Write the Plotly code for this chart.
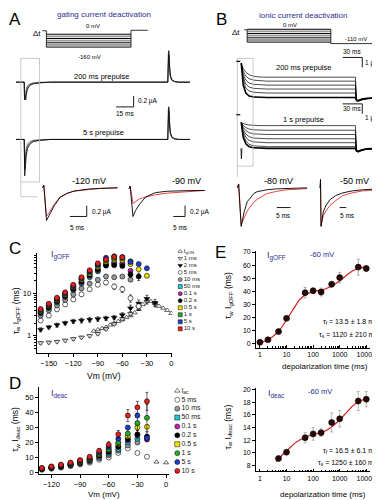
import plotly.graph_objects as go

W, H = 380, 500
FONT = "Liberation Sans, Arial, sans-serif"
TXT_BLUE = "#2d2d8c"
RED, BLUE, GREEN = "#e3201c", "#1f3fd0", "#22b02a"
YELLOW, BLACK, MAGENTA = "#f0e400", "#000000", "#c020b0"
CYAN, GRAY = "#22c8d8", "#9a9a9a"

# ================= Panel A: gating current traces (ms, µA) =================
a_time = [0, 7.2, 7.6, 8.1, 8.9, 10, 12, 15, 21, 30, 130.8, 131.3, 131.7, 132.3, 133, 134.2, 136.5, 140, 150]
a_200ms_1 = [0, 0, -0.56, -0.40, -0.24, -0.13, -0.06, -0.03, -0.01, 0, 0, 0.52, 0.58, 0.32, 0.13, 0.05, 0.015, 0, 0]
a_200ms_2 = [0, 0, -0.47, -0.32, -0.18, -0.09, -0.045, -0.02, -0.008, 0, 0, 0.46, 0.52, 0.28, 0.11, 0.04, 0.01, 0, 0]
a_200ms_3 = [0, 0, -0.38, -0.24, -0.13, -0.06, -0.03, -0.012, 0, 0, 0, 0.40, 0.47, 0.24, 0.09, 0.03, 0.01, 0, 0]
a_5s_1 = [0, 0, -0.67, -0.50, -0.30, -0.17, -0.09, -0.04, -0.015, 0, 0, 0.55, 0.60, 0.33, 0.13, 0.05, 0.015, 0, 0]
a_5s_2 = [0, 0, -0.55, -0.38, -0.22, -0.12, -0.06, -0.025, -0.01, 0, 0, 0.50, 0.55, 0.30, 0.12, 0.04, 0.01, 0, 0]
a_5s_3 = [0, 0, -0.42, -0.27, -0.15, -0.08, -0.04, -0.015, 0, 0, 0, 0.44, 0.50, 0.26, 0.10, 0.03, 0.01, 0, 0]

a120_t = [0.6, 1.0, 1.8, 2.6, 4.1, 5.9, 8, 10, 14.7, 18, 23]
a120_black = [0, 0.05, -0.60, -0.50, -0.33, -0.17, -0.10, -0.06, -0.02, -0.01, 0]
a120_red = [0, 0.04, -0.52, -0.46, -0.30, -0.17, -0.10, -0.06, -0.03, -0.01, 0]
a90_t = [0.8, 1.3, 2.5, 3.6, 5.0, 7.9, 12, 17, 24.6, 33]
a90_black = [0, 0.05, -0.51, -0.40, -0.30, -0.15, -0.07, -0.045, -0.035, -0.03]
a90_red = [0, 0.05, -0.27, -0.24, -0.19, -0.15, -0.11, -0.08, -0.05, -0.03]

# ================= Panel B: ionic current traces (ms, µA) =================
b_time = [6, 9, 13, 18, 25, 33, 45, 180, 181.5, 184.5, 190, 198, 210]
b_200ms = [
    [3.5, 3.0, 2.6, 2.35, 2.2, 2.12, 2.1, 2.1, -0.30, -0.35, -0.20, -0.08, -0.02],
    [3.5, 2.7, 2.2, 1.95, 1.8, 1.73, 1.7, 1.7, -0.30, -0.33, -0.18, -0.07, -0.02],
    [3.5, 2.4, 1.8, 1.5, 1.38, 1.32, 1.3, 1.3, -0.28, -0.30, -0.16, -0.06, -0.02],
    [3.5, 2.1, 1.4, 1.1, 0.97, 0.92, 0.9, 0.9, -0.25, -0.28, -0.15, -0.05, -0.02],
    [3.5, 1.8, 1.0, 0.7, 0.57, 0.52, 0.5, 0.5, -0.22, -0.25, -0.13, -0.05, -0.01],
    [3.5, 1.3, 0.5, 0.2, 0.1, 0.06, 0.05, 0.05, -0.20, -0.25, -0.12, -0.04, -0.01],
]
b_1s = [
    [2.6, 2.5, 2.42, 2.36, 2.32, 2.3, 2.3, 2.3, -0.30, -0.38, -0.20, -0.08, -0.02],
    [2.6, 2.3, 2.1, 1.95, 1.87, 1.84, 1.83, 1.83, -0.30, -0.36, -0.20, -0.07, -0.02],
    [2.6, 2.1, 1.8, 1.58, 1.46, 1.42, 1.4, 1.4, -0.28, -0.34, -0.18, -0.07, -0.02],
    [2.6, 1.9, 1.45, 1.18, 1.04, 0.99, 0.97, 0.97, -0.27, -0.32, -0.17, -0.06, -0.02],
    [2.6, 1.7, 1.1, 0.8, 0.65, 0.59, 0.57, 0.57, -0.26, -0.30, -0.16, -0.06, -0.01],
    [2.6, 1.4, 0.75, 0.4, 0.25, 0.19, 0.17, 0.17, -0.25, -0.30, -0.15, -0.05, -0.01],
    [2.6, 1.1, 0.45, 0.17, 0.06, 0.02, 0, 0, -0.25, -0.30, -0.15, -0.05, -0.01],
]
b_cap_t = [5.5, 6.2, 7.0]
b_cap_v = [0, -1.05, 0]

b80_t = [0.7, 1.2, 2.1, 3.2, 4.3, 6.8, 7.9, 11.4, 15, 18.6, 24.6, 26]
b80_black = [0, 0.1, -1.0, -0.62, -0.36, -0.14, -0.10, -0.05, -0.026, -0.015, 0, 0]
b80_red = [0, 0.1, -0.95, -0.75, -0.60, -0.36, -0.30, -0.15, -0.09, -0.05, -0.026, -0.02]
b50_t = [1.5, 1.9, 2.3, 4, 6, 9, 13.5, 18.8, 26, 33.8, 46.5]
b50_black = [0, 0.22, -1.0, -0.62, -0.46, -0.31, -0.20, -0.13, -0.08, -0.05, -0.026]
b50_red = [0, 0.1, -0.98, -0.72, -0.60, -0.46, -0.33, -0.20, -0.13, -0.08, -0.05]

# ================= Panel C: tau IgOFF vs Vm =================
vm_c = [-160, -150, -140, -130, -120, -110, -100, -90, -80, -70, -60, -50, -40, -30]
vm_c_fast = [-160, -150, -140, -130, -120, -110, -100, -90, -80, -70, -60, -50, -40, -30, -20]
vm_gon = [-95, -90, -85, -80, -75, -70, -65, -60, -55, -50, -45, -40, -35, -30, -25, -20, -15, -10, -5, 0]
c_igon = [1.3, 1.4, 1.5, 1.6, 1.8, 2.0, 2.2, 2.4, 2.7, 3.0, 3.5, 4.2, 5.5, 6.8, 6.5, 5.8, 5.0, 4.5, 4.0, 3.4]
c_1ms = [0.68, 0.70, 0.73, 0.78, 0.85, 0.92, 1.0, 1.12, 1.45, 1.9, 2.5, 3.3, 4.6, 6.4, 5.6]
c_1ms_err = [0.05, 0.05, 0.05, 0.05, 0.06, 0.06, 0.07, 0.08, 0.1, 0.15, 0.2, 0.3, 0.5, 0.8, 0.6]
c_2ms = [1.4, 1.6, 1.8, 2.0, 2.2, 2.3, 2.4, 2.5, 2.6, 2.7, 3.1, 4.5, 5.8, 7.5, 6.0]
c_2ms_err = [0.15, 0.15, 0.2, 0.2, 0.25, 0.3, 0.3, 0.3, 0.3, 0.3, 0.4, 0.8, 1.2, 1.5, 1.2]
c_5ms = [2.3, 3.0, 4.2, 5.5, 7.2, 9.5, 12.5, 16, 18, 14.5, 12.5, 7.7, 5.0, None]
c_5ms_err = [0.2, 0.3, 0.4, 0.5, 0.7, 0.9, 1.2, 1.5, 2.0, 2.0, 2.0, 1.5, 1.0, 0]
c_10ms = [3.0, 4.0, 5.2, 7.0, 9.5, 13, 17, 21, 25, 24, 25, 21, None, None]
c_50ms = [3.4, 4.5, 6.1, 8.2, 12, 17, 24, 33, 47, 50, 48, None, None, None]
c_01s = [3.5, 4.7, 6.4, 8.6, 12.5, 18, 26, 35, 49, 53, 51, 34, None, None]
c_02s = [3.6, 4.8, 6.6, 8.8, 13, 19, 27, 37, 45, 46, 44, 28, 25, None]
c_02s_err = [0.2, 0.3, 0.4, 0.5, 0.8, 1, 1.5, 2, 3, 3, 3, 4, 5, 0]
c_05s = [3.8, 5.1, 7.0, 9.3, 14, 21, 29, 42, 56, 62, 60, 49, 37, 26]
c_1s = [3.9, 5.3, 7.3, 9.7, 14.5, 22, 31, 45, 60, 67, 66, 57, None, None]
c_5s = [4.1, 5.5, 7.6, 10.2, 15, 23, 33, 48, 69, 75, 72, 55, 49, 39]
c_10s = [4.3, 5.7, 7.9, 10.6, 16, 24, 35, 51, 63, 73, 71, None, None, None]
c_legend_labels = ["I<sub>gON</sub>", "1 ms", "2 ms", "5 ms", "10 ms", "50 ms", "0.1 s", "0.2 s",
                   "0.5 s", "1 s", "5 s", "10 s"]

# ================= Panel D: tau Ideac vs Vm =================
vm_d = [-130, -120, -110, -100, -90, -80, -70, -60, -50, -40, -30, -20]
vm_iac = [-10, 0]
d_iac = [7.0, 6.5]
d_5ms = [1.8, 2.5, 3.2, 4.2, 5.3, 6.5, 8.5, 10, 13, 16, 13, 10.5]
d_10ms = [2.0, 2.8, 3.5, 4.6, 5.8, 7.2, 9.5, 11.5, 14.5, 18, 20, None]
d_50ms = [2.2, 3.0, 3.8, 5.0, 6.2, 7.8, 10.5, 12.5, 15.5, 20, 22.5, None]
d_01s = [2.3, 3.1, 4.0, 5.2, 6.5, 8.2, 11, 13.5, 17, 21.5, 25, 22]
d_02s = [2.4, 3.2, 4.2, 5.4, 6.8, 8.5, 11.5, 14, 17.5, 22.5, 25.5, 24]
d_02s_err = [0.2, 0.3, 0.3, 0.4, 0.5, 0.6, 0.8, 1, 1.5, 2, 3, 3]
d_05s = [2.5, 3.4, 4.4, 5.6, 7.0, 8.8, 12, 15, 19, 24, 30, 30.5]
d_1s = [2.6, 3.6, 4.6, 5.8, 7.4, 9.2, 12.5, 15.5, 20, 26, 33, 36.5]
d_1s_err = [0.2, 0.3, 0.4, 0.5, 0.6, 0.8, 1, 1.5, 2, 3, 5, 9]
d_5s = [2.8, 3.8, 4.9, 6.2, 7.8, 9.8, 13.5, 17, 22.5, 30, 38, 23]
d_10s = [3.0, 4.0, 5.2, 6.6, 8.3, 10.5, 14.5, 18.5, 25.5, 38, 43.5, 47.5]
d_10s_err = [0.3, 0.4, 0.5, 0.6, 0.8, 1, 1.5, 2, 2.5, 4, 4, 6]
d_legend_labels = ["I<sub>ac</sub>", "5 ms", "10 ms", "50 ms", "0.1 s", "0.2 s", "0.5 s", "1 s", "5 s", "10 s"]

# ================= Panel E: tau vs depolarization time =================
e1_t = [1, 2, 5, 10, 50, 100, 200, 500, 1000, 5000, 10000]
e1_v = [1.3, 3.2, 9.4, 19.5, 39, 40.5, 39.5, 45.5, 50.5, 58.5, 57.5]
e1_err = [0.5, 0.5, 1, 1.5, 4, 2, 3, 2, 4, 6, 2]
e1_fit_t = [1, 1.5, 2, 3, 5, 7, 10, 15, 20, 30, 50, 70, 100, 200, 300, 500, 1000, 2000, 3000, 5000, 7000, 10000]
e1_fit_v = [0.5, 2, 3.3, 5.5, 9.5, 13.5, 18.5, 24.5, 28.5, 33.5, 37.5, 39, 40, 41, 42, 44, 48, 53, 55.5, 57.5, 58.3, 58.7]
e2_t = [5, 10, 50, 100, 200, 500, 1000, 5000, 10000]
e2_v = [9.1, 10.1, 12.4, 13.0, 13.2, 14.8, 15.4, 18.2, 18.5]
e2_err = [0.25, 0.25, 0.8, 1.0, 0.6, 1.5, 1.3, 1.5, 1.2]
e2_fit_t = [4, 5, 7, 10, 15, 20, 30, 50, 70, 100, 200, 300, 500, 1000, 2000, 3000, 5000, 7000, 10000]
e2_fit_v = [8.6, 9.1, 9.7, 10.3, 11.0, 11.5, 12.0, 12.5, 12.7, 12.9, 13.2, 13.5, 14.1, 15.2, 16.6, 17.4, 18.1, 18.4, 18.6]

# ---------------------------------------------------------------------------
fig = go.Figure()


def dx(a, b):
    return [a / W, b / W]


def dy(top, bottom):
    return [1 - bottom / H, 1 - top / H]


def line(t, v, xa, ya, color="black", width=0.8):
    fig.add_trace(go.Scatter(x=t, y=v, xaxis=xa, yaxis=ya, mode="lines",
                             line=dict(color=color, width=width), hoverinfo="skip"))


def pts(x, y, xa, ya, sym, fill, size=5, err=None, ecolor="black", lw=0.6):
    fig.add_trace(go.Scatter(
        x=x, y=y, xaxis=xa, yaxis=ya, mode="markers", hoverinfo="skip",
        marker=dict(symbol=sym, color=fill, size=size, line=dict(color="black", width=lw)),
        error_y=dict(type="data", array=err, color=ecolor, thickness=0.6, width=1.5, visible=err is not None)))


# ---- Panel A traces
for v, c in [(a_200ms_3, "#777"), (a_200ms_2, "#333"), (a_200ms_1, "black")]:
    line(a_time, v, "x7", "y7", c)
for v, c in [(a_5s_3, "#777"), (a_5s_2, "#333"), (a_5s_1, "black")]:
    line(a_time, v, "x7", "y8", c)
line(a120_t, a120_red, "x9", "y9", "#e03030", 0.9)
line(a120_t, a120_black, "x9", "y9", "black", 0.9)
line(a90_t, a90_red, "x10", "y10", "#e03030", 0.9)
line(a90_t, a90_black, "x10", "y10", "black", 0.9)

# ---- Panel B traces
for i, v in enumerate(b_200ms):
    line(b_time, v, "x11", "y11", "black", 1.6 if i == len(b_200ms) - 1 else 0.7)
for i, v in enumerate(b_1s):
    line(b_time, v, "x11", "y12", "black", 1.6 if i == len(b_1s) - 1 else 0.7)
line(b_cap_t, b_cap_v, "x11", "y12", "black", 0.8)
line(b80_t, b80_red, "x13", "y13", "#e03030", 0.9)
line(b80_t, b80_black, "x13", "y13", "black", 0.9)
line(b50_t, b50_red, "x14", "y14", "#e03030", 0.9)
line(b50_t, b50_black, "x14", "y14", "black", 0.9)

# ---- Panel C points
pts(vm_gon, c_igon, "x", "y", "triangle-up", "white", 4.5, lw=0.6)
pts(vm_c_fast, c_1ms, "x", "y", "triangle-down", "#dddddd", 5, c_1ms_err)
pts(vm_c_fast, c_2ms, "x", "y", "triangle-down", BLACK, 5, c_2ms_err)
pts(vm_c, c_5ms, "x", "y", "circle", "white", 5, c_5ms_err)
c_series = [(c_10ms, GRAY), (c_50ms, CYAN), (c_01s, MAGENTA), (c_02s, BLACK), (c_05s, YELLOW),
            (c_1s, GREEN), (c_5s, BLUE), (c_10s, RED)]
for vals, col in c_series:
    pts(vm_c, vals, "x", "y", "circle", col, 5, c_02s_err if vals is c_02s else None)

# C legend
c_leg_sym = ["triangle-up", "triangle-down", "triangle-down", "circle", "circle", "square", "circle",
             "circle", "square", "square", "square", "square"]
c_leg_col = ["white", "#dddddd", BLACK, "white", GRAY, CYAN, MAGENTA, BLACK, YELLOW, GREEN, BLUE, RED]
fig.add_trace(go.Scatter(
    x=[0] * len(c_legend_labels), y=list(range(len(c_legend_labels))), xaxis="x5", yaxis="y5",
    mode="markers+text", text=c_legend_labels, textposition="middle right",
    textfont=dict(size=6, family=FONT, color="#222"), hoverinfo="skip",
    marker=dict(symbol=c_leg_sym, color=c_leg_col, size=4, line=dict(color="black", width=0.5))))

# ---- Panel D points
pts(vm_iac, d_iac, "x2", "y2", "triangle-up", "white", 4.5)
pts(vm_d, d_5ms, "x2", "y2", "circle", "white", 5)
d_series = [(d_10ms, GRAY, None), (d_50ms, CYAN, None), (d_01s, MAGENTA, None), (d_02s, BLACK, d_02s_err),
            (d_05s, YELLOW, None), (d_1s, GREEN, d_1s_err), (d_5s, BLUE, None), (d_10s, RED, d_10s_err)]
for vals, col, err in d_series:
    pts(vm_d, vals, "x2", "y2", "circle", col, 5, err)

d_leg_sym = ["triangle-up", "circle", "circle", "square", "circle", "circle", "square", "circle", "circle", "circle"]
d_leg_col = ["white", "white", GRAY, CYAN, MAGENTA, BLACK, YELLOW, GREEN, BLUE, RED]
fig.add_trace(go.Scatter(
    x=[0] * len(d_legend_labels), y=list(range(len(d_legend_labels))), xaxis="x6", yaxis="y6",
    mode="markers+text", text=d_legend_labels, textposition="middle right",
    textfont=dict(size=7, family=FONT, color="#222"), hoverinfo="skip",
    marker=dict(symbol=d_leg_sym, color=d_leg_col, size=5, line=dict(color="black", width=0.5))))

# ---- Panel E
line(e1_fit_t, e1_fit_v, "x3", "y3", "#d41e1e", 1.2)
pts(e1_t, e1_v, "x3", "y3", "circle", "#2a0808", 6, e1_err, ecolor="#777")
line(e2_fit_t, e2_fit_v, "x4", "y4", "#d41e1e", 1.2)
pts(e2_t, e2_v, "x4", "y4", "circle", "#2a0808", 6, e2_err, ecolor="#888")

# ---------------------------------------------------------------------------
TICKF = dict(size=7.5, family=FONT, color="black")


def vis_axis(domain, rng, anchor, **kw):
    d = dict(domain=domain, range=rng, anchor=anchor, showline=True, linecolor="black", linewidth=0.8,
             ticks="outside", ticklen=3, tickwidth=0.8, tickcolor="black", showgrid=False, zeroline=False,
             tickfont=TICKF, fixedrange=True)
    d.update(kw)
    return d


def hid_axis(domain, rng, anchor):
    return dict(domain=domain, range=rng, anchor=anchor, visible=False, fixedrange=True)


minor_c = [0.5, 0.6, 0.7, 0.8, 0.9, 2, 3, 4, 5, 6, 7, 8, 9, 20, 30, 40, 50, 60, 70, 80]
minor_e = [m * d for d in (1, 10, 100, 1000) for m in range(2, 10)]
e_ticks = dict(tickvals=[1, 10, 100, 1000, 10000], ticktext=["1", "10", "100", "1000", "10000"],
               ticks="inside", tickfont=dict(size=7, family=FONT, color="black"),
               minor=dict(tickvals=minor_e, ticks="inside", ticklen=2, tickcolor="black", tickwidth=0.6))

layout_axes = dict(
    xaxis=vis_axis(dx(29, 167), [-165, 1.2], "y", tickvals=[-150, -120, -90, -60, -30, 0]),
    yaxis=vis_axis(dy(245, 346), [-0.4, 1.95], "x", type="log", tickvals=[1, 10], ticktext=["1", "10"],
                   minor=dict(tickvals=minor_c, ticks="outside", ticklen=2, tickcolor="black", tickwidth=0.6)),
    xaxis2=vis_axis(dx(31.5, 163.5), [-133, 3], "y2", tickvals=[-120, -90, -60, -30, 0]),
    yaxis2=vis_axis(dy(381, 469), [-1.3, 56.8], "x2", tickvals=[0, 10, 20, 30, 40, 50]),
    xaxis3=vis_axis(dx(252, 368), [-0.148, 4.148], "y3", type="log", **e_ticks),
    yaxis3=vis_axis(dy(243, 341), [-3, 70.7], "x3", tickvals=[0, 10, 20, 30, 40, 50, 60, 70],
                    tickfont=dict(size=7, family=FONT, color="black")),
    xaxis4=vis_axis(dx(252, 368), [-0.148, 4.148], "y4", type="log", **e_ticks),
    yaxis4=vis_axis(dy(382, 466), [7.06, 20.2], "x4", tickvals=[8, 10, 12, 14, 16, 18, 20],
                    tickfont=dict(size=7, family=FONT, color="black")),
    xaxis5=hid_axis(dx(170, 215), [-1, 8], "y5"),
    yaxis5=hid_axis(dy(239.7, 325.3), [11.5, -0.5], "x5"),
    xaxis6=hid_axis(dx(167, 215), [-1, 8.6], "y6"),
    yaxis6=hid_axis(dy(380, 470), [9.5, -0.5], "x6"),
    xaxis7=hid_axis(dx(8, 185), [0, 150], "y7"),
    yaxis7=hid_axis(dy(35, 110), [-0.69, 0.673], "x7"),
    yaxis8=hid_axis(dy(90, 175), [-0.818, 0.727], "x7"),
    xaxis9=hid_axis(dx(33, 112), [0, 23.2], "y9"),
    yaxis9=hid_axis(dy(172, 216), [-0.673, 0.127], "x9"),
    xaxis10=hid_axis(dx(121, 200), [0, 33], "y10"),
    yaxis10=hid_axis(dy(172, 216), [-0.655, 0.145], "x10"),
    xaxis11=hid_axis(dx(233, 378), [0, 217.5], "y11"),
    yaxis11=hid_axis(dy(45, 95), [-0.7, 4.3], "x11"),
    yaxis12=hid_axis(dy(92, 150), [-1.1, 4.7], "x11"),
    xaxis13=hid_axis(dx(231, 305), [0, 26.4], "y13"),
    yaxis13=hid_axis(dy(170, 222), [-1.1, 0.23], "x13"),
    xaxis14=hid_axis(dx(315, 380), [0, 48.75], "y14"),
    yaxis14=hid_axis(dy(170, 222), [-1.1, 0.23], "x14"),
)

# ---- shapes
shapes = []


def pline(pts_list, color="black", width=1):
    for (x0, y0), (x1, y1) in zip(pts_list[:-1], pts_list[1:]):
        shapes.append(dict(type="line", xref="paper", yref="paper", x0=x0 / W, y0=1 - y0 / H,
                           x1=x1 / W, y1=1 - y1 / H, line=dict(color=color, width=width)))


def prect(x0, y0, x1, y1, color="#bbbbbb", width=0.8):
    shapes.append(dict(type="rect", xref="paper", yref="paper", x0=x0 / W, y0=1 - y1 / H,
                       x1=x1 / W, y1=1 - y0 / H, line=dict(color=color, width=width)))


def stripes(x0, x1, ytop, ybot):
    n = 7
    for i in range(n):
        y = ytop + (ybot - ytop) * i / (n - 1)
        pline([(x0, y), (x1, y)], "black" if i % 2 == 0 else "#999999", 1.0 if i % 2 == 0 else 1.8)


# A protocol
stripes(39, 125, 23.5, 36.5)
pline([(35, 20), (39, 20), (39, 36.5)], "black", 0.8)
pline([(125, 36.5), (125, 19.5), (142, 19.5)], "black", 0.8)
# B protocol
stripes(243, 328, 18.5, 31.5)
pline([(240, 19), (243, 19), (243, 31.5)], "black", 0.8)
pline([(328, 18.5), (328, 33), (375, 33)], "black", 0.8)
# gray zoom boxes
prect(13, 48, 32, 173)
pline([(13, 173), (13, 188), (30, 188)], "#bbbbbb", 0.8)
prect(233, 48, 249, 157)
pline([(233, 157), (233, 168)], "#bbbbbb", 0.8)
pline([(232, 51), (236, 51)], "black", 1.2)
pline([(232, 105), (236, 105)], "black", 1.2)


def sbar(xa, ya, pts_list, width=0.9):
    for (x0, y0), (x1, y1) in zip(pts_list[:-1], pts_list[1:]):
        shapes.append(dict(type="line", xref=xa, yref=ya, x0=x0, y0=y0, x1=x1, y1=y1,
                           line=dict(color="black", width=width)))


# scale bars in data units (ms, µA)
sbar("x7", "y7", [(86.4, -0.455), (101.4, -0.455), (101.4, -0.255)])
sbar("x9", "y9", [(8.8, -0.527), (13.8, -0.527), (13.8, -0.327)])
sbar("x10", "y10", [(19.6, -0.509), (24.6, -0.509), (24.6, -0.309)])
sbar("x11", "y11", [(160.5, 4.1), (190.5, 4.1), (190.5, 3.1)])
sbar("x11", "y12", [(160.5, 4.5), (190.5, 4.5), (190.5, 3.5)])
sbar("x13", "y13", [(15, -0.51), (20, -0.51)])
sbar("x14", "y14", [(16.5, -0.51), (21.5, -0.51)])

# ---- annotations
ann = []


def txt(x, y, s, size=7, color="black", anchor="center", angle=0):
    ann.append(dict(x=x / W, y=1 - y / H, xref="paper", yref="paper", text=s, showarrow=False,
                    font=dict(size=size, color=color, family=FONT), xanchor=anchor, yanchor="middle",
                    textangle=angle, borderpad=0))


for s, x, y in [("A", 7, 9), ("B", 217, 9), ("C", 7, 240), ("D", 7, 377), ("E", 216, 244)]:
    txt(x, y, s, 17)
txt(98, 4, "gating current deactivation", 8, TXT_BLUE)
txt(300, 5, "ionic current deactivation", 8, TXT_BLUE)
txt(29, 23, "Δt", 8)
txt(86, 15, "0 mV", 6)
txt(83, 47, "-160 mV", 6)
txt(232, 22, "Δt", 8)
txt(287, 14, "0 mV", 6)
txt(354, 28, "-110 mV", 6)
txt(95, 66, "200 ms prepulse", 7.5)
txt(97, 123, "5 s prepulse", 7.5)
txt(131, 91, "0.2 µA", 6.5, anchor="left")
txt(119, 104, "15 ms", 6.5)
txt(82, 172, "-120 mV", 9)
txt(181, 172, "-90 mV", 9)
txt(84, 203, "0.2 µA", 6.5, anchor="left")
txt(71, 219, "5 ms", 6.5)
txt(184, 203, "0.2 µA", 6.5, anchor="left")
txt(175, 219, "5 ms", 6.5)
txt(350, 41, "30 ms", 6.5)
txt(370, 53, "1 µA", 6.5)
txt(300, 57, "200 ms prepulse", 7.5)
txt(350, 99, "30 ms", 6.5)
txt(370, 108, "1 µA", 6.5)
txt(300, 110, "1 s prepulse", 7.5)
txt(275, 172, "-80 mV", 9)
txt(352, 172, "-50 mV", 9)
txt(280, 207, "5 ms", 6.5)
txt(345, 207, "5 ms", 6.5)
txt(43, 247, "I<sub>gOFF</sub>", 9, TXT_BLUE, "left")
txt(43, 387, "I<sub>deac</sub>", 9, TXT_BLUE, "left")
txt(262, 248, "I<sub>gOFF</sub>", 9, TXT_BLUE, "left")
txt(306, 246, "-60 mV", 7.5, TXT_BLUE, "left")
txt(263, 387, "I<sub>deac</sub>", 9, TXT_BLUE, "left")
txt(304, 385, "-60 mV", 7.5, TXT_BLUE, "left")
txt(377, 315, "τ<sub>f</sub> = 13.5 ± 1.8 ms", 7, anchor="right")
txt(377, 328, "τ<sub>s</sub> = 1120 ± 210 ms", 7, anchor="right")
txt(377, 445, "τ<sub>f</sub> = 16.5 ± 6.1 ms", 7, anchor="right")
txt(377, 457, "τ<sub>s</sub> = 1250 ± 160 ms", 7, anchor="right")
txt(98, 369, "Vm (mV)", 8.5)
txt(98, 489, "Vm (mV)", 8)
txt(322, 360, "depolarization time (ms)", 8)
txt(320, 489, "depolarization time (ms)", 8)
txt(8, 303, "τ<sub>w</sub> I<sub>gOFF</sub> (ms)", 8.5, angle=-90)
txt(8, 423, "τ<sub>w</sub> I<sub>deac</sub> (ms)", 8.5, angle=-90)
txt(224, 288, "τ<sub>w</sub> I<sub>gOFF</sub> (ms)", 8.5, angle=-90)
txt(224, 421, "τ<sub>w</sub> I<sub>deac</sub> (ms)", 8.5, angle=-90)

fig.update_layout(
    width=W, height=H, margin=dict(l=0, r=0, t=0, b=0),
    paper_bgcolor="white", plot_bgcolor="white", showlegend=False, hovermode=False,
    font=dict(family=FONT, size=7, color="black"),
    shapes=shapes, annotations=ann, **layout_axes)

fig.write_html("out.html")
